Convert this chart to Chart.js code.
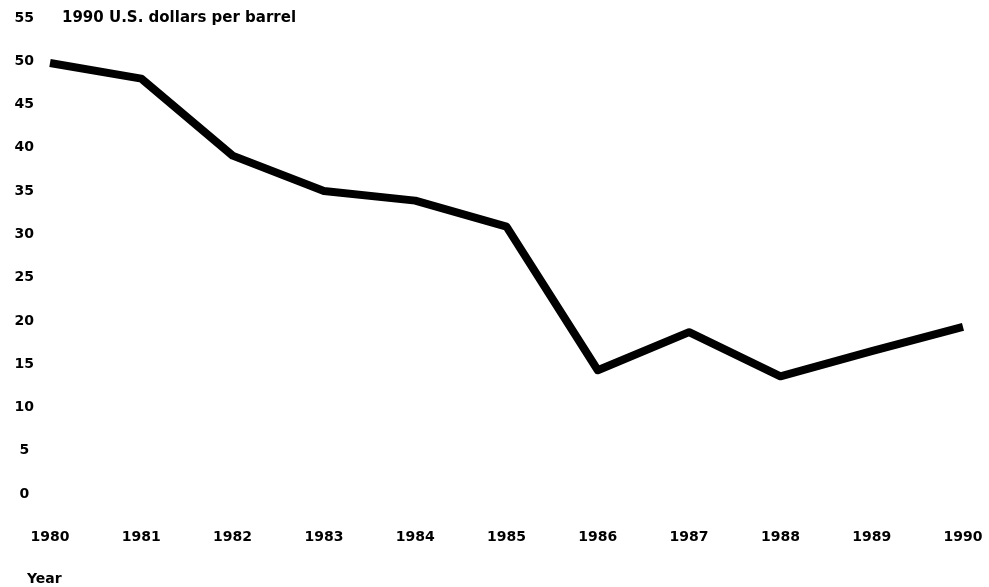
<!DOCTYPE html>
<html>
<head>
<meta charset="utf-8">
<script src="https://cdn.jsdelivr.net/npm/chart.js@4/dist/chart.umd.min.js"></script>
<style>
html,body{margin:0;padding:0;background:#fff;}
#wrap{width:989px;height:587px;}
</style>
</head>
<body>
<div id="wrap"><canvas id="c" width="989" height="587"></canvas></div>
<script>
const years = ["1980","1981","1982","1983","1984","1985","1986","1987","1988","1989","1990"];
const pricePerBarrel = [49.8, 48.0, 39.1, 35.0, 33.9, 30.9, 14.3, 18.7, 13.6, 16.5, 19.3];
const yTicks = [0,5,10,15,20,25,30,35,40,45,50,55];
const unitLabel = "1990 U.S. dollars per barrel";
const xTitle = "Year";

const FONT = "'DejaVu Sans', 'Liberation Sans', Arial, sans-serif";

const textPlugin = {
  id: 'texts',
  afterDraw(chart) {
    const ctx = chart.ctx;
    const y = chart.scales.y;
    ctx.save();
    ctx.fillStyle = '#000';
    ctx.font = "bold 15px " + FONT;
    ctx.textBaseline = 'middle';
    ctx.textAlign = 'left';
    ctx.fillText(unitLabel, 62, y.getPixelForValue(55));
    ctx.font = "bold 14px " + FONT;
    ctx.fillText(xTitle, 27, 579);
    ctx.restore();
  }
};

new Chart(document.getElementById('c'), {
  type: 'line',
  data: {
    labels: years,
    datasets: [{
      data: pricePerBarrel,
      borderColor: '#000',
      borderWidth: 8,
      pointRadius: 0,
      tension: 0,
      borderJoinStyle: 'round',
      borderCapStyle: 'butt',
      fill: false
    }]
  },
  options: {
    responsive: false,
    animation: false,
    devicePixelRatio: 1,
    layout: { padding: { top: 18, right: 0, left: 0, bottom: 0 } },
    plugins: { legend: { display: false }, tooltip: { enabled: false }, title: { display: false } },
    scales: {
      x: {
        grid: { display: false },
        border: { display: false },
        ticks: {
          color: '#000',
          font: { family: FONT, size: 14, weight: 'bold' },
          padding: 27,
          maxRotation: 0,
          autoSkip: false
        },
        afterFit(scale) { scale.height = 93; scale.paddingRight = 26; scale.paddingLeft = 0; }
      },
      y: {
        min: 0, max: 55,
        afterBuildTicks(scale) { scale.ticks = yTicks.map(v => ({ value: v })); },
        grid: { display: false },
        border: { display: false },
        ticks: {
          color: '#000',
          font: { family: FONT, size: 14, weight: 'bold' },
          crossAlign: 'center',
          padding: 8
        },
        afterFit(scale) { scale.width = 50; }
      }
    }
  },
  plugins: [textPlugin]
});
</script>
</body>
</html>
